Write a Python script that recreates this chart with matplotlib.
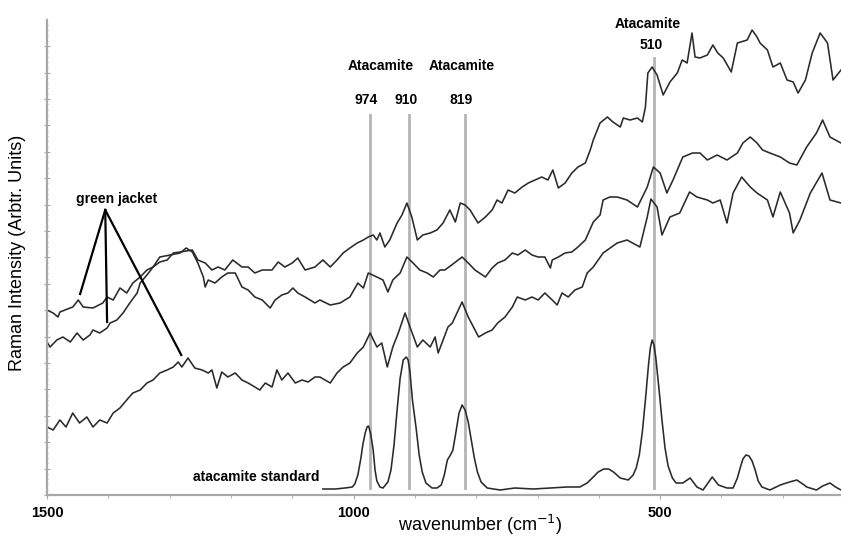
#Raman spectra of green jacket vs atacamite standard

import matplotlib
matplotlib.use('Agg')
import matplotlib.pyplot as plt
from matplotlib.ticker import MultipleLocator, AutoMinorLocator

plt.rcParams['font.family'] = ['Liberation Sans', 'DejaVu Sans']

# green jacket spectrum 1 (top)
a_wn = [1500,1490,1482,1479,1458,1449,1441,1425,1409,1402,1392,1381,1370,1360,1348,1337,1327,1316,1304,1294,
        1283,1263,1254,1242,1231,1221,1210,1197,1182,1172,1161,1149,1133,1123,1112,1100,1091,1079,1063,1050,
        1038,1027,1017,1006,994,984,976,968,962,957,949,941,929,921,913,905,896,887,875,864,
        854,843,834,826,818,810,797,785,774,766,758,748,737,725,715,704,693,683,675,666,
        655,644,634,622,614,609,598,586,577,565,560,549,537,529,524,520,513,505,495,484,
        472,464,456,448,443,435,423,414,406,397,384,374,358,350,342,337,325,316,304,293,
        283,275,263,252,239,227,218,205]
a_int = [185,182,178,183,188,195,188,187,192,198,195,207,202,212,218,225,228,233,235,242,
         243,245,235,232,225,228,225,235,228,228,222,225,225,233,228,232,237,225,228,235,
         228,235,242,247,252,255,258,260,255,262,248,255,272,280,292,278,255,260,262,265,
         272,285,273,292,290,285,272,278,285,295,292,305,302,308,312,315,318,315,325,307,
         312,322,328,332,345,355,372,378,373,368,377,375,377,373,388,422,428,420,400,413,
         422,435,432,462,438,437,440,450,442,437,423,452,455,465,458,452,445,428,432,415,
         413,402,415,442,462,452,415,425]

# green jacket spectrum 2 (middle)
b_wn = [1500,1495,1484,1474,1462,1451,1441,1430,1425,1414,1402,1397,1386,1376,1365,1353,1348,1337,1327,1316,
        1299,1283,1273,1263,1254,1245,1242,1237,1226,1215,1205,1193,1182,1172,1161,1149,1136,1128,1117,1107,
        1099,1091,1079,1063,1055,1038,1022,1006,993,984,976,962,952,944,936,924,913,903,892,880,
        870,859,851,840,823,813,802,785,774,765,753,741,732,720,709,699,688,679,676,666,
        655,644,634,622,609,598,593,582,570,554,537,521,511,500,489,479,463,447,435,423,
        407,391,374,365,353,342,333,321,304,289,277,261,245,235,223,205]
b_int = [153,148,155,158,153,162,155,160,165,162,167,172,175,182,192,202,212,220,228,238,
         240,242,247,243,232,218,208,215,212,218,222,222,208,205,198,195,187,195,200,202,
         207,202,198,192,195,190,192,198,212,207,222,218,215,203,215,222,238,232,225,222,
         218,225,225,230,238,232,225,218,227,232,235,242,240,245,240,238,238,227,235,238,
         242,243,248,255,273,280,295,298,298,295,288,308,328,322,302,315,338,342,342,335,
         340,335,342,352,358,352,345,342,338,332,330,348,362,375,358,352]

# green jacket spectrum 3 (bottom)
c_wn = [1500,1490,1479,1469,1458,1447,1435,1425,1414,1402,1392,1381,1370,1360,1348,1337,1327,1316,1304,1294,
        1286,1280,1270,1259,1247,1237,1231,1223,1215,1205,1193,1182,1172,1161,1153,1144,1133,1125,1117,1107,
        1095,1084,1074,1063,1055,1038,1027,1017,1006,994,984,973,962,954,945,936,927,916,908,896,
        887,875,867,862,854,846,839,823,813,796,785,774,765,753,741,733,720,709,699,688,
        676,668,660,650,639,627,619,609,593,570,554,533,521,515,505,497,484,468,452,440,
        423,414,402,391,381,367,353,342,325,316,304,289,283,272,255,236,223,205]
c_int = [68,65,75,68,82,72,78,68,75,72,82,87,95,102,105,112,115,122,125,128,
         133,128,137,127,125,122,125,107,123,118,122,115,112,108,105,112,108,125,115,122,
         112,115,113,118,118,112,122,128,132,142,148,162,148,152,128,148,162,182,168,148,
         155,148,158,142,155,168,172,193,178,158,162,165,172,178,188,198,195,198,195,202,
         195,190,202,198,205,208,222,228,242,252,255,248,278,296,288,260,278,282,303,298,
         295,292,295,272,302,318,308,302,295,278,303,282,262,275,302,322,295,292]

# atacamite standard
d_wn = [1050,1030,1014,1002,998,993,988,985,981,978,976,975,972,968,965,962,957,952,944,939,
        934,929,924,919,914,911,908,904,898,893,888,882,872,864,857,852,847,842,838,833,
        828,823,818,813,808,803,798,792,782,761,737,707,679,652,631,619,609,601,592,584,
        576,565,552,544,539,534,529,524,519,516,513,510,507,502,497,492,487,480,474,463,
        451,440,430,422,415,405,391,381,374,369,365,360,355,350,345,340,334,321,304,289,
        277,265,261,245,235,223,214,205]
d_int = [6,6,7,8,11,20,37,50,62,68,69,68,61,45,25,14,8,7,13,25,
         50,85,117,135,138,135,123,95,67,40,23,12,7,7,10,20,35,40,45,63,
         82,90,85,73,55,37,23,13,7,5,7,6,7,8,8,12,18,23,26,26,
         23,17,15,20,27,40,63,95,130,147,155,150,137,107,75,47,29,17,12,12,
         17,8,5,12,18,10,7,7,17,28,36,40,39,34,25,14,8,5,10,13,
         15,10,8,5,9,12,8,5]

peaks = [974, 910, 819, 510]
peak_tops = [380, 380, 380, 437]

fig = plt.figure(figsize=(8.41, 5.40), dpi=100)
ax = fig.add_axes([47/841, 45/540, 794/841, 475/540])

for wn, p in zip(peaks, peak_tops):
    ax.plot([wn, wn], [7, p], color='#b4b4b4', lw=2.0, zorder=1)

for wn, inten in [(a_wn, a_int), (b_wn, b_int), (c_wn, c_int), (d_wn, d_int)]:
    ax.plot(wn, inten, color='#2a2a2a', lw=1.15, zorder=2)

ax.set_xlim(1500, 205)
ax.set_ylim(0, 475)

for s in ['top', 'right']:
    ax.spines[s].set_visible(False)
for s in ['left', 'bottom']:
    ax.spines[s].set_color('#a8a8a8')
    ax.spines[s].set_linewidth(1.6)

ax.set_xticks([1500, 1000, 500])
ax.xaxis.set_minor_locator(MultipleLocator(100))
ax.tick_params(axis='x', which='major', length=3, color='#a8a8a8', pad=5, labelsize=10.5)
ax.tick_params(axis='x', which='minor', length=2, color='#a8a8a8')
for lab in ax.get_xticklabels():
    lab.set_fontweight('bold')

ax.yaxis.set_major_locator(MultipleLocator(26.4))
ax.yaxis.set_minor_locator(AutoMinorLocator(5))
ax.tick_params(axis='y', which='major', length=4, direction='inout', color='#a8a8a8', labelleft=False)
ax.tick_params(axis='y', which='minor', length=2, direction='inout', color='#a8a8a8')

fig.text(18/841, 1 - 253/540, 'Raman Intensity (Arbtr. Units)', rotation=90,
         ha='center', va='center', fontsize=13)
fig.text(480/841, 1 - 525/540, 'wavenumber (cm$^{-1}$)', ha='center', va='center', fontsize=13)

bold = dict(fontsize=10, fontweight='bold', ha='center', va='center')
ax.text(955, 429, 'Atacamite', **bold)
ax.text(823, 429, 'Atacamite', **bold)
ax.text(521, 471, 'Atacamite', **bold)
ax.text(980, 395, '974', **bold)
ax.text(914, 395, '910', **bold)
ax.text(825, 395, '819', **bold)
ax.text(515, 450, '510', **bold)
ax.text(1387, 296, 'green jacket', **bold)
ax.text(1262, 18, 'atacamite standard', fontsize=10, fontweight='bold', ha='left', va='center')

# pointer lines from "green jacket"
for ex, ey in [(1446, 201), (1402, 173), (1281, 140)]:
    ax.plot([1405, ex], [285, ey], color='black', lw=1.6, zorder=3)

plt.savefig('out.png', dpi=100)
plt.close()
